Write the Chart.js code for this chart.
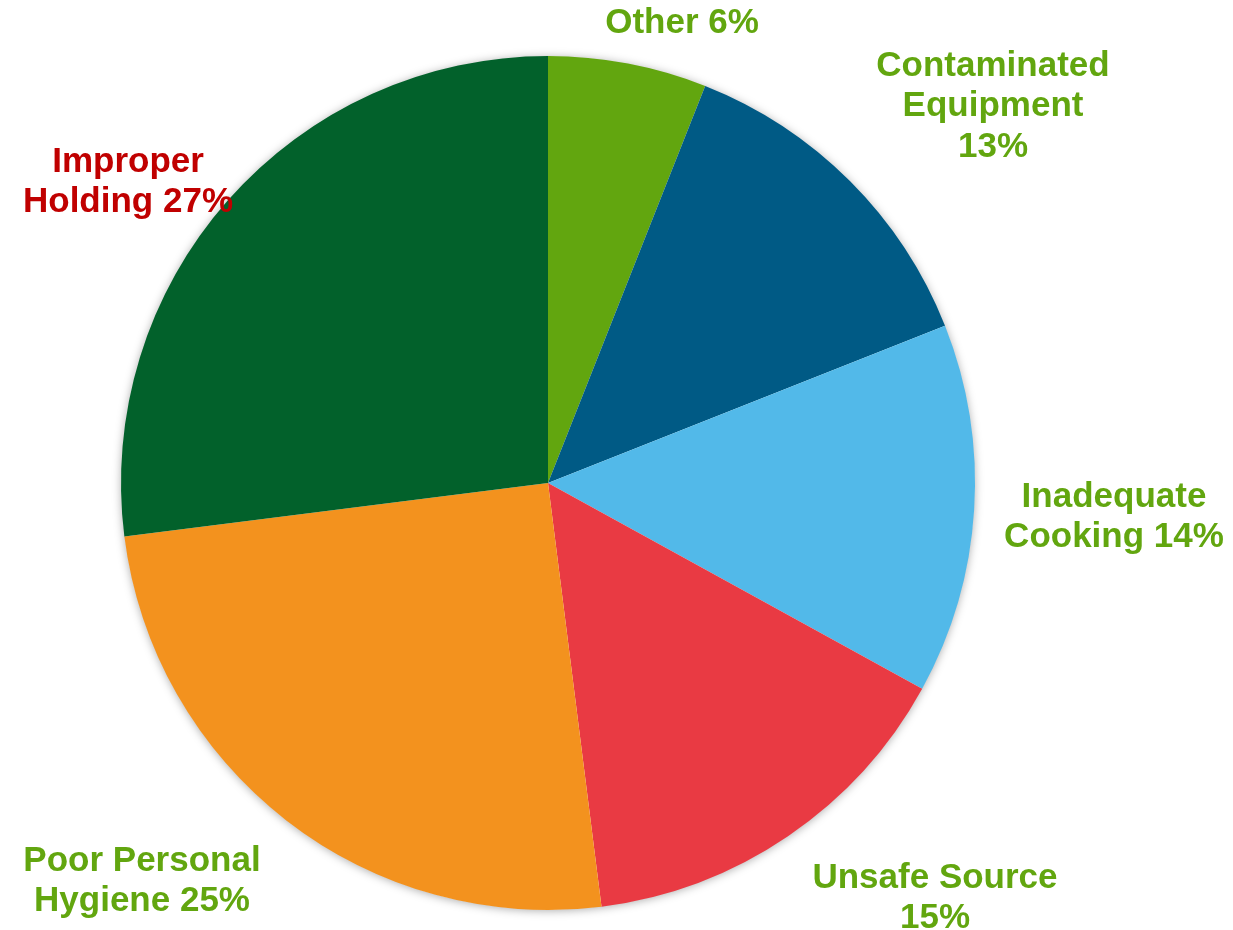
<!DOCTYPE html>
<html>
<head>
<meta charset="utf-8">
<script src="https://cdn.jsdelivr.net/npm/chart.js@4/dist/chart.umd.min.js"></script>
<style>
html,body{margin:0;padding:0;background:#fff;}
#wrap{width:1233px;height:930px;position:relative;}
</style>
</head>
<body>
<div id="wrap"><canvas id="c" width="1233" height="930"></canvas></div>
<script>
const categories = ["Other", "Contaminated Equipment", "Inadequate Cooking", "Unsafe Source", "Poor Personal Hygiene", "Improper Holding"];
const values = [6, 13, 14, 15, 25, 27];
const labelLines = [
  ["Other 6%"],
  ["Contaminated", "Equipment", "13%"],
  ["Inadequate", "Cooking 14%"],
  ["Unsafe Source", "15%"],
  ["Poor Personal", "Hygiene 25%"],
  ["Improper", "Holding 27%"]
];
const sliceColors = ["#62A60F", "#005A85", "#52B9E9", "#E93A43", "#F3921E", "#02612B"];
const labelColors = ["#62A60F", "#62A60F", "#62A60F", "#62A60F", "#62A60F", "#C00000"];
// label anchor positions (centre of first line), in canvas pixels
const labelPos = [[682, 23], [993, 66], [1114, 497], [935, 878], [142, 861], [128, 162]];

const shadowPlugin = {
  id: 'pieShadow',
  beforeDatasetsDraw(chart) {
    const arc = chart.getDatasetMeta(0).data[0];
    if (!arc) return;
    const ctx = chart.ctx;
    ctx.save();
    ctx.shadowColor = 'rgba(0,0,0,0.35)';
    ctx.shadowBlur = 10;
    ctx.shadowOffsetX = 0;
    ctx.shadowOffsetY = 1;
    ctx.fillStyle = '#ffffff';
    ctx.beginPath();
    ctx.arc(arc.x, arc.y, arc.outerRadius - 0.5, 0, Math.PI * 2);
    ctx.fill();
    ctx.restore();
  }
};

const labelPlugin = {
  id: 'outsideLabels',
  afterDatasetsDraw(chart) {
    const ctx = chart.ctx;
    ctx.save();
    ctx.font = 'bold 35px "Liberation Sans", Arial, sans-serif';
    ctx.textAlign = 'center';
    ctx.textBaseline = 'middle';
    labelLines.forEach((lines, i) => {
      ctx.fillStyle = labelColors[i];
      const [x, y] = labelPos[i];
      lines.forEach((t, j) => ctx.fillText(t, x, y + j * 40.5));
    });
    ctx.restore();
  }
};

new Chart(document.getElementById('c'), {
  type: 'pie',
  data: {
    labels: categories,
    datasets: [{
      data: values,
      backgroundColor: sliceColors,
      borderWidth: 0
    }]
  },
  options: {
    responsive: false,
    animation: false,
    layout: { padding: { left: 121, right: 258, top: 56, bottom: 20 } },
    plugins: {
      legend: { display: false },
      tooltip: { enabled: false }
    }
  },
  plugins: [shadowPlugin, labelPlugin]
});
</script>
</body>
</html>
